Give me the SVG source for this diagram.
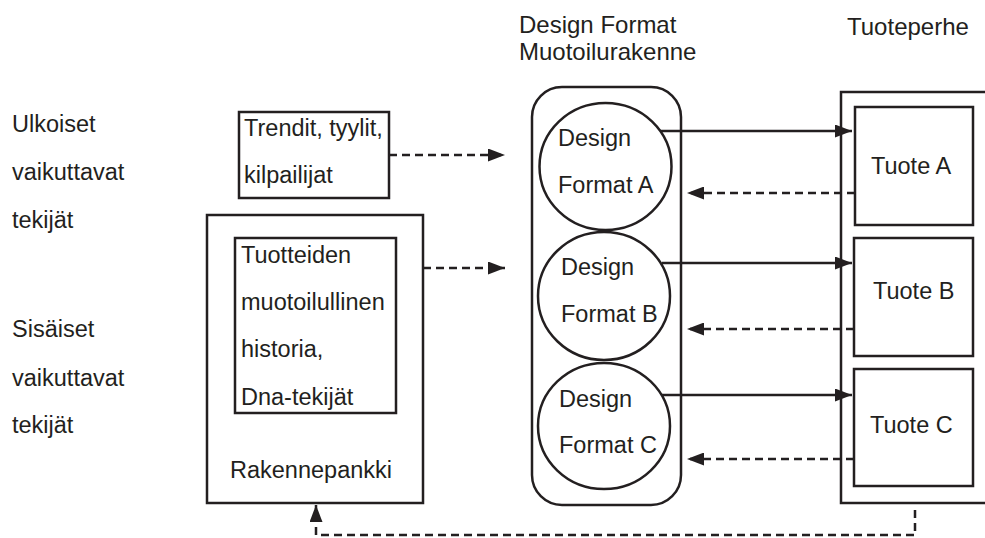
<svg xmlns="http://www.w3.org/2000/svg" width="985" height="538" viewBox="0 0 985 538">
<style>
text{font-family:"Liberation Sans",Arial,sans-serif;font-size:23.5px;fill:#231f20}
.top{font-size:24px}
.box{fill:#fff;stroke:#231f20;stroke-width:2.5}
.ln{fill:none;stroke:#231f20;stroke-width:2.5}
.dash{fill:none;stroke:#231f20;stroke-width:2.5;stroke-dasharray:8 5}
</style>
<defs>
<marker id="ah" markerUnits="userSpaceOnUse" markerWidth="17" markerHeight="13" refX="17" refY="6.5" orient="auto">
<path d="M0,0 L17,6.5 L0,13 z" fill="#231f20"/>
</marker>
</defs>
<rect width="985" height="538" fill="#fff"/>
<g id="labels">
<text x="12" y="132">Ulkoiset</text>
<text x="12" y="180">vaikuttavat</text>
<text x="12" y="228">tekijät</text>
<text x="12" y="337">Sisäiset</text>
<text x="12" y="386">vaikuttavat</text>
<text x="12" y="433">tekijät</text>
<text class="top" x="519" y="33">Design Format</text>
<text class="top" x="519" y="60">Muotoilurakenne</text>
<text class="top" x="847" y="35">Tuoteperhe</text>
</g>
<g id="trendit">
<rect class="box" x="239" y="112" width="150" height="86"/>
<text x="244" y="136">Trendit, tyylit,</text>
<text x="244" y="183">kilpailijat</text>
</g>
<g id="rakennepankki">
<rect class="box" x="207" y="215" width="216" height="288"/>
<text x="230" y="478">Rakennepankki</text>
</g>
<g id="historia">
<rect class="box" x="235" y="238" width="161" height="175"/>
<text x="241" y="263">Tuotteiden</text>
<text x="241" y="310">muotoilullinen</text>
<text x="241" y="357">historia,</text>
<text x="241" y="405">Dna-tekijät</text>
</g>
<g id="muotoilurakenne">
<rect class="box" x="532" y="87" width="149" height="418" rx="30" ry="30"/>
</g>
<g id="formatA">
<ellipse class="box" cx="605.5" cy="166.5" rx="66" ry="63.5"/>
<text x="558" y="146">Design</text>
<text x="558" y="193">Format A</text>
</g>
<g id="formatB">
<ellipse class="box" cx="604" cy="296" rx="66" ry="64"/>
<text x="561" y="275">Design</text>
<text x="561" y="322">Format B</text>
</g>
<g id="formatC">
<ellipse class="box" cx="604" cy="426" rx="66" ry="63"/>
<text x="559" y="407">Design</text>
<text x="559" y="453">Format C</text>
</g>
<g id="tuoteperhe">
<rect class="box" x="841" y="92" width="170" height="411"/>
</g>
<g id="tuoteA">
<rect class="box" x="855" y="107" width="118" height="118"/>
<text x="871" y="174">Tuote A</text>
</g>
<g id="tuoteB">
<rect class="box" x="854" y="238" width="119" height="118"/>
<text x="873" y="299">Tuote B</text>
</g>
<g id="tuoteC">
<rect class="box" x="854" y="369" width="119" height="117"/>
<text x="870" y="433">Tuote C</text>
</g>
<g id="connectors">
<line class="dash" x1="389" y1="155" x2="505" y2="155" marker-end="url(#ah)"/>
<line class="dash" x1="423" y1="268" x2="505" y2="268" marker-end="url(#ah)"/>
<line class="ln" x1="660" y1="131" x2="852" y2="131" marker-end="url(#ah)"/>
<line class="dash" x1="855" y1="193" x2="687" y2="193" marker-end="url(#ah)"/>
<line class="ln" x1="662" y1="263" x2="852" y2="263" marker-end="url(#ah)"/>
<line class="dash" x1="854" y1="329" x2="687" y2="329" marker-end="url(#ah)"/>
<line class="ln" x1="662" y1="395" x2="852" y2="395" marker-end="url(#ah)"/>
<line class="dash" x1="854" y1="459" x2="687" y2="459" marker-end="url(#ah)"/>
<path class="dash" d="M915,510 V535 H316 V505" marker-end="url(#ah)"/>
</g>
</svg>
